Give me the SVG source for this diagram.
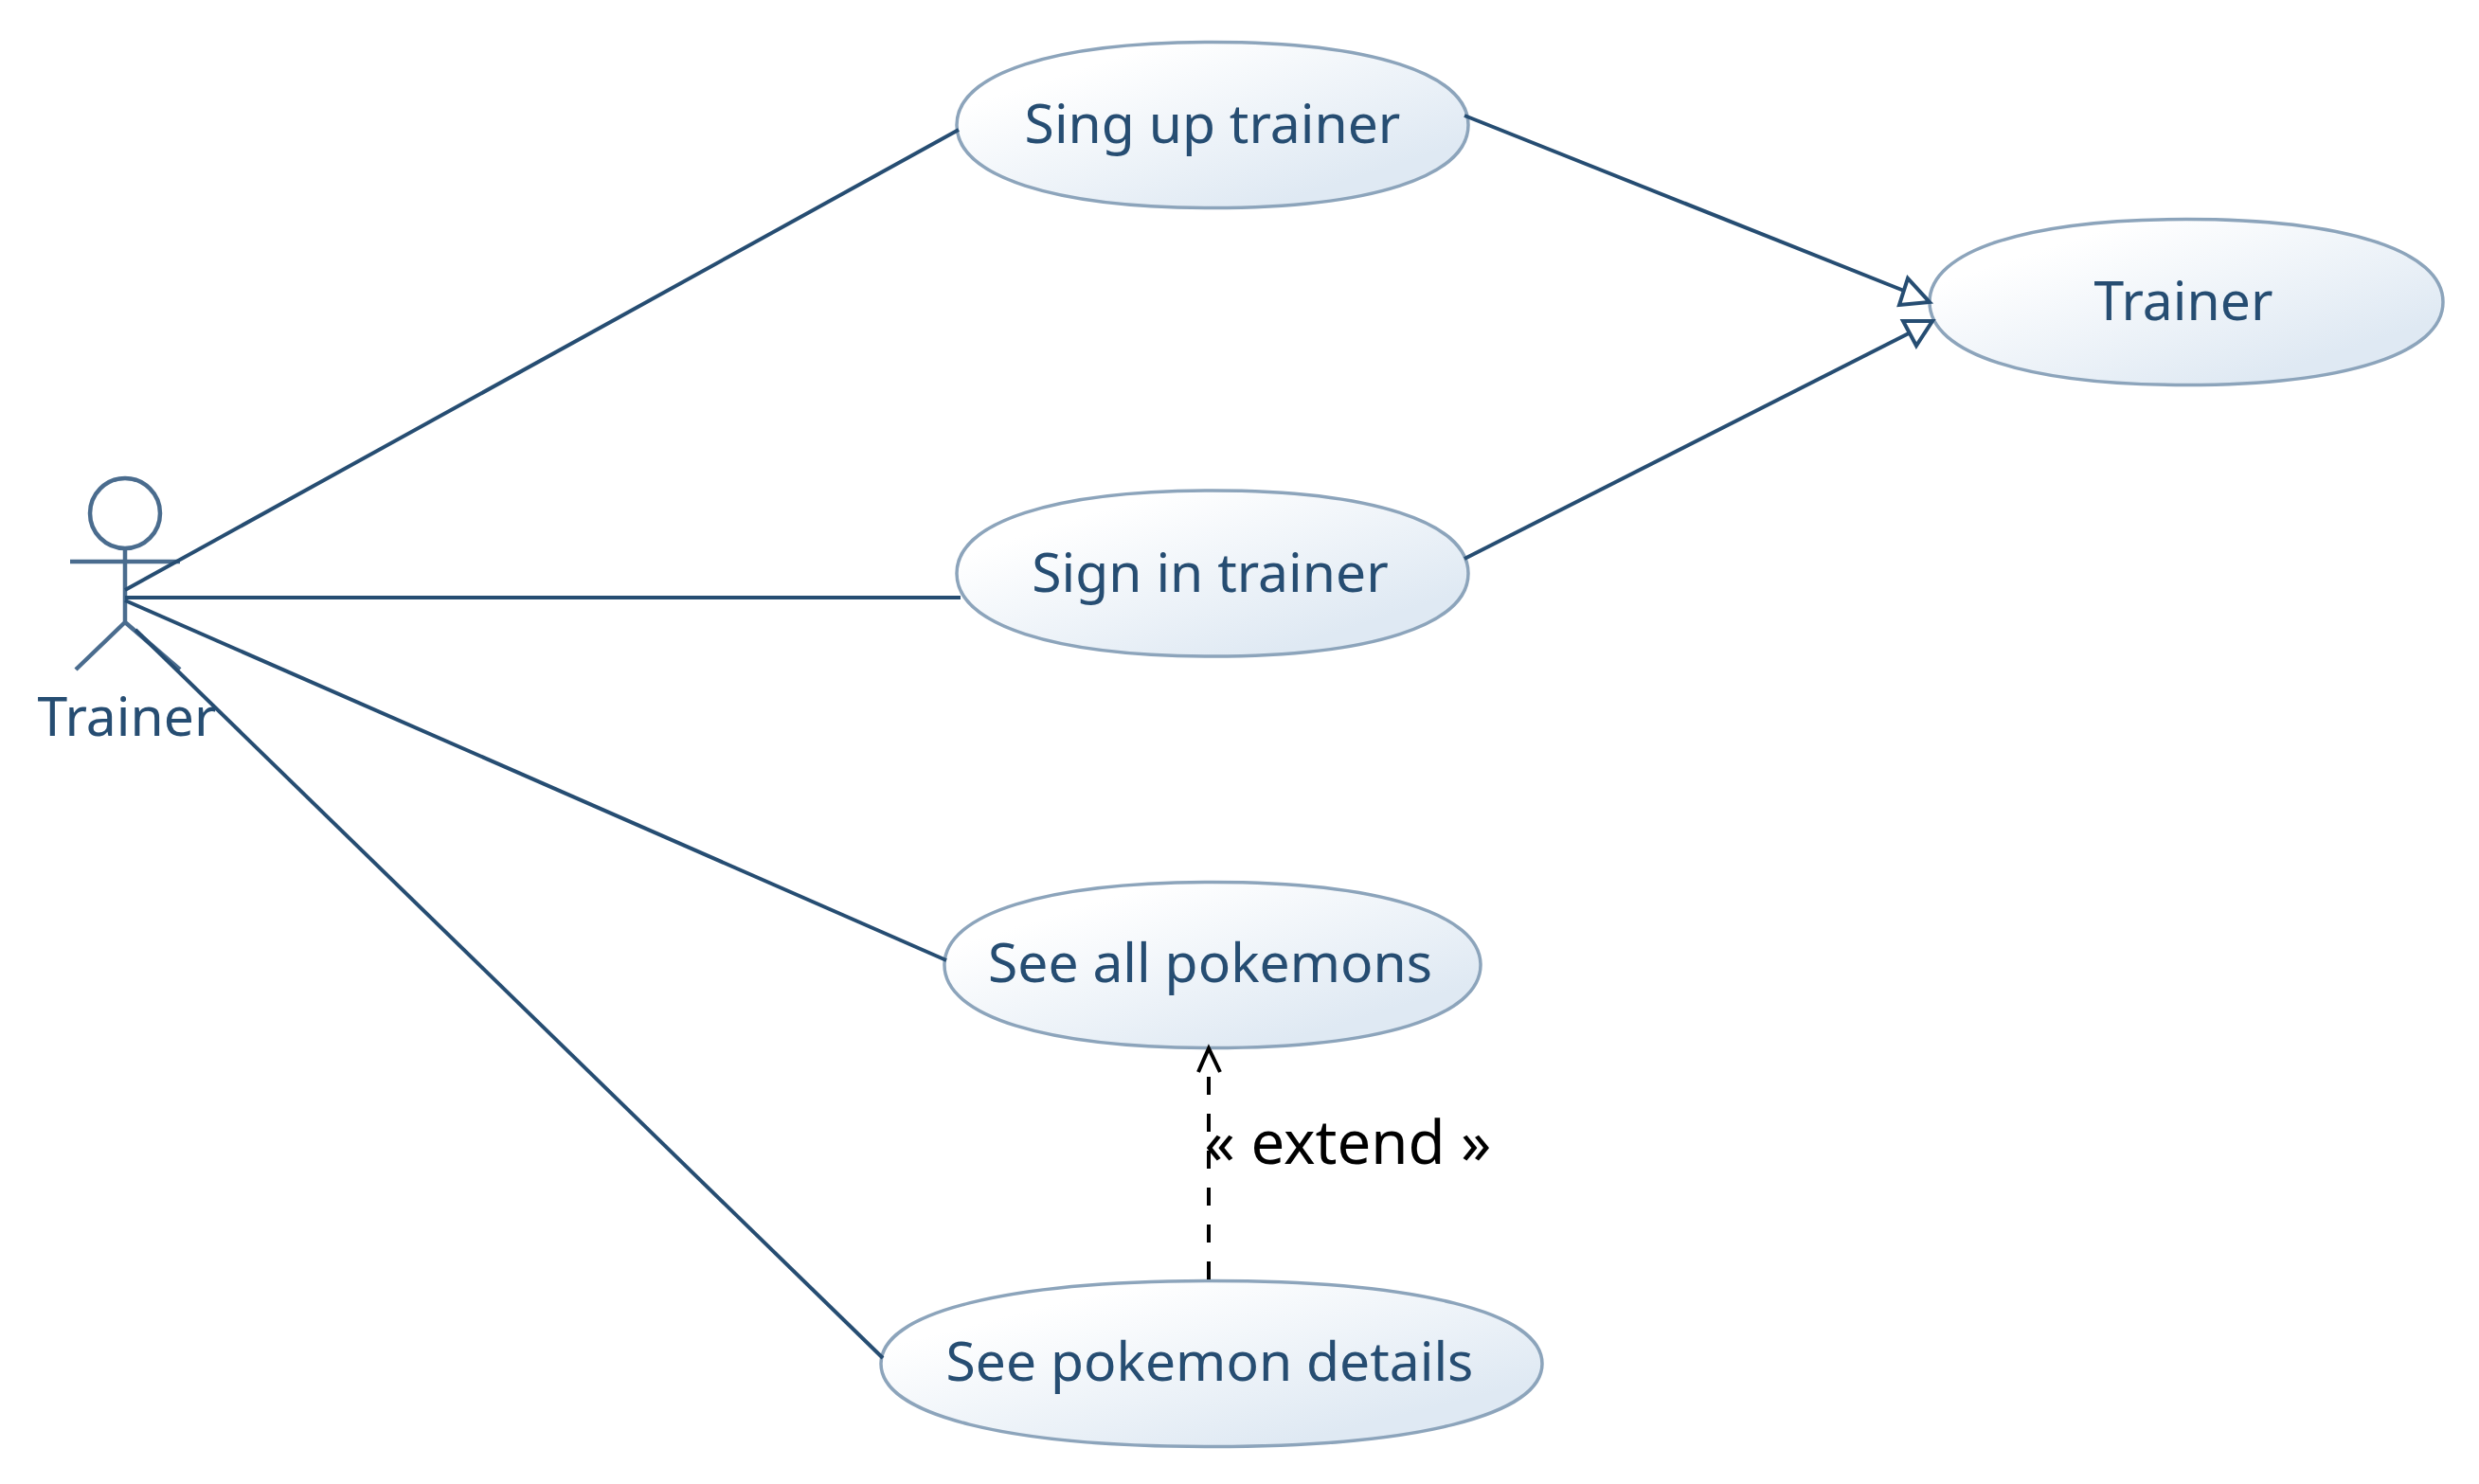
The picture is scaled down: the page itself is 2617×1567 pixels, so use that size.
<svg xmlns="http://www.w3.org/2000/svg" width="2617" height="1567" viewBox="0 0 2617 1567">
<style>
text{font-family:"Noto Sans","Open Sans",sans-serif;fill:#264d72;font-size:57px;text-anchor:middle}
.uc{fill:url(#g);stroke:#8ca4bb;stroke-width:3.500}
.ln{fill:none;stroke:#264d72;stroke-width:4}
.ac{fill:none;stroke:#4a6c8e;stroke-width:4.500}
.hd{fill:#fff;stroke:#264d72;stroke-width:4}
.dep{fill:none;stroke:#000;stroke-width:4}
</style>
<defs><linearGradient id="g" x1="0" y1="0" x2="1" y2="1"><stop offset="0.2" stop-color="#fff"/><stop offset="0.8" stop-color="#dfe9f3"/></linearGradient></defs>
<rect width="2617" height="1567" fill="#fff"/>
<g id="actor"><circle class="ac" cx="132" cy="542" r="37"/><path class="ac" d="M132 579V657M74 593H190M132 657L80 707M132 657L190 707"/><text x="134" y="777">Trainer</text></g>
<g id="signup"><path class="uc" d="M1010 132c0 -54.250 102.600 -87.500 270 -87.500s270 33.250 270 87.500s-102.600 87.500 -270 87.500s-270 -33.250 -270 -87.500z"/><text x="1280" y="151">Sing up trainer</text></g>
<g id="trainer"><path class="uc" d="M2037 319c0 -54.250 103 -87.500 271 -87.500s271 33.250 271 87.500s-103 87.500 -271 87.500s-271 -33.250 -271 -87.500z"/><text x="2305" y="338">Trainer</text></g>
<g id="signin"><path class="uc" d="M1010 605.500c0 -54.250 102.600 -87.500 270 -87.500s270 33.250 270 87.500s-102.600 87.500 -270 87.500s-270 -33.250 -270 -87.500z"/><text x="1277.500" y="625">Sign in trainer</text></g>
<g id="seeall"><path class="uc" d="M997 1019c0 -54.250 107.500 -87.500 283 -87.500s283 33.250 283 87.500s-107.500 87.500 -283 87.500s-283 -33.250 -283 -87.500z"/><text x="1277.500" y="1037">See all pokemons</text></g>
<g id="details"><path class="uc" d="M930 1440c0 -54.250 132.600 -87.500 349 -87.500s349 33.250 349 87.500s-132.600 87.500 -349 87.500s-349 -33.250 -349 -87.500z"/><text x="1277" y="1458">See pokemon details</text></g>
<text x="1423" y="1229" style="fill:#000;font-size:63.500px">« extend »</text>
<g id="connectors">
<path class="ln" d="M132 623L1012 137"/>
<path class="ln" d="M132 631L1014 631"/>
<path class="ln" d="M132 634L999 1014"/>
<path class="ln" d="M143 665L932 1434"/>
<path class="ln" d="M1546 122L2010 307"/>
<polygon class="hd" points="2037,319 2014,294 2005,322"/>
<path class="ln" d="M1546 590L2015 352"/>
<polygon class="hd" points="2040,339 2009,339 2023,365"/>
<path class="dep" stroke-dasharray="19 20" d="M1276 1351L1276 1136"/>
<path class="dep" d="M1265 1132L1276 1107L1288 1132"/>
</g>
</svg>
